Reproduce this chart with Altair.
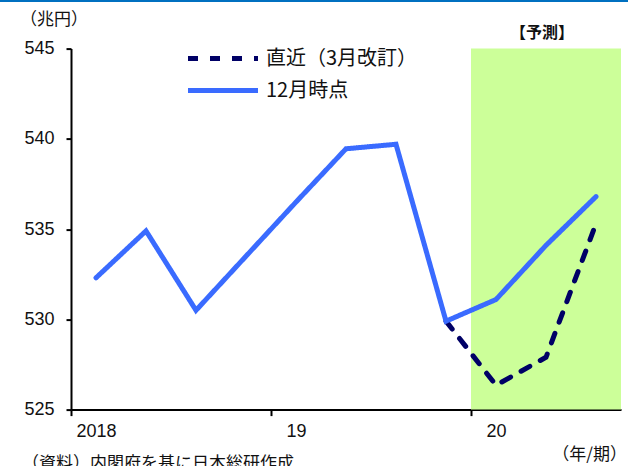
import altair as alt
import pandas as pd

# Quarter index (center of each quarter): 2018Q1 .. 2020Q3
quarters = [0.5, 1.5, 2.5, 3.5, 4.5, 5.5, 6.5, 7.5, 8.5, 9.5, 10.5]
dec_values = [532.3, 534.9, 530.5, 533.5, 536.5, 539.45, 539.7, 529.9, 531.1, 534.1, 536.8]
mar_quarters = [7.5, 8.5, 9.5, 10.5]
mar_values = [529.9, 526.35, 527.9, 535.3]

s_mar = "直近（3月改訂）"
s_dec = "12月時点"
year_ticks = [0, 4, 8]
year_labels = ["2018", "19", "20"]
forecast_start, forecast_end = 8, 11

rows = [{"q": q, "v": v, "s": s_dec} for q, v in zip(quarters, dec_values)]
rows += [{"q": q, "v": v, "s": s_mar} for q, v in zip(mar_quarters, mar_values)]
df = pd.DataFrame(rows)

W, H = 550, 361
JP = "Noto Sans CJK JP"
NUM = "Liberation Sans"

xscale = alt.Scale(domain=[0, 11], nice=False, zero=False)
yscale = alt.Scale(domain=[525, 545], nice=False, zero=False)

label_expr = ("datum.value == 0 ? '" + year_labels[0] + "' : datum.value == 4 ? '"
              + year_labels[1] + "' : '" + year_labels[2] + "'")

x_axis = alt.Axis(values=year_ticks, labelExpr=label_expr, title=None, grid=False,
                  tickSize=6, tickWidth=2, tickColor="black", domainColor="black",
                  domainWidth=2, labelFont=NUM, labelFontSize=18, labelColor="#111111",
                  labelOffset=25, labelPadding=7, labelAlign="center")
y_axis = alt.Axis(values=[525, 530, 535, 540, 545], title=None, grid=False,
                  tickSize=5, tickWidth=2, tickColor="black", domainColor="black",
                  domainWidth=2, labelFont=NUM, labelFontSize=18, labelColor="#111111",
                  labelPadding=12)

color_scale = alt.Scale(domain=[s_mar, s_dec], range=["#000066", "#3A6BFF"])
dash_scale = alt.Scale(domain=[s_mar, s_dec], range=[[10, 12], [1, 0]])

legend = alt.Legend(
    title=None, orient="none", legendX=142, legendY=0,
    symbolType="M-5,0H5", symbolSize=196, symbolStrokeWidth=5,
    labelFont=JP, labelFontSize=20, labelColor="#111111",
    rowPadding=12, labelOffset=33, padding=0,
)

forecast = alt.Chart(pd.DataFrame({"a": [forecast_start], "b": [forecast_end]})).mark_rect(
    color="#CCFF99"
).encode(
    x=alt.X("a:Q", scale=xscale, axis=x_axis),
    x2="b:Q",
    y=alt.value(0),
    y2=alt.value(H),
)

base = alt.Chart(df).mark_line(strokeWidth=5, strokeCap="round", strokeJoin="miter").encode(
    x=alt.X("q:Q", scale=xscale, axis=x_axis),
    y=alt.Y("v:Q", scale=yscale, axis=y_axis),
    color=alt.Color("s:N", scale=color_scale, legend=legend),
    strokeDash=alt.StrokeDash("s:N", scale=dash_scale, legend=legend),
)

mar_line = base.transform_filter(alt.datum.s == s_mar)
dec_line = base.transform_filter(alt.datum.s == s_dec)

one = pd.DataFrame({"k": [0]})

def label(text, x, y, align="center", size=16, baseline="middle", weight="normal"):
    return alt.Chart(one).mark_text(
        text=text, font=JP, fontSize=size, align=align, baseline=baseline,
        color="#111111", fontWeight=weight
    ).encode(x=alt.value(x), y=alt.value(y))

top_rule = alt.Chart(one).mark_rule(color="#0070C0", strokeWidth=2).encode(
    x=alt.value(-71), x2=alt.value(557), y=alt.value(-47.5)
)

chart = alt.layer(
    forecast,
    mar_line,
    dec_line,
    top_rule,
    label("（兆円）", -17, -28.5, size=17),
    label("【予測】", 471, -15.5, weight="bold"),
    label("（年/期）", 556, 406.5, align="right", size=17),
    label("（資料）内閣府を基に日本総研作成", -49, 407.5, align="left", baseline="top", size=17),
).properties(
    width=W, height=H,
    autosize=alt.AutoSizeParams(type="none"),
    padding={"left": 71, "top": 48.6, "right": 7, "bottom": 56.4},
).configure_view(stroke=None)

chart.save("out.html", embed_options={"renderer": "svg", "actions": False})
